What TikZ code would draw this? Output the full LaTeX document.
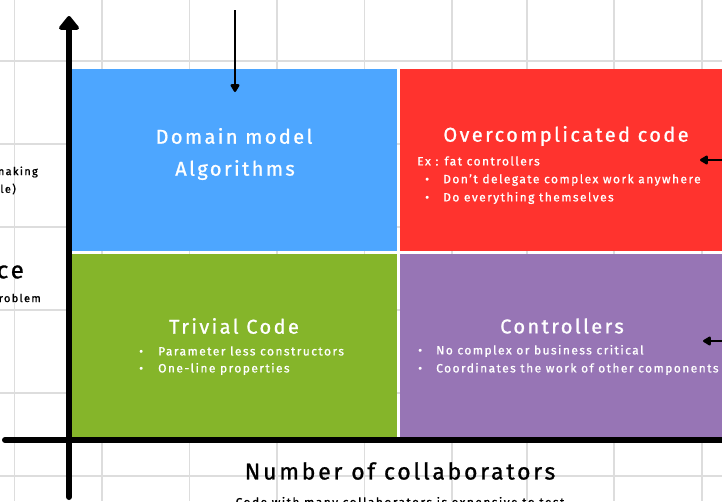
\documentclass[tikz,border=0pt]{standalone}
\usepackage{fontspec}
\setmainfont{Fira Sans}[LetterSpace=12,FakeBold=1]
\usetikzlibrary{arrows.meta}
\definecolor{domainblue}{HTML}{4DA6FF}
\definecolor{overred}{HTML}{FF332E}
\definecolor{trivgreen}{HTML}{85B52A}
\definecolor{ctrlpurple}{HTML}{9775B5}
\definecolor{gridgray}{HTML}{DDDDDD}
\begin{document}
\begin{tikzpicture}[x=1pt,y=-1pt,
	gridline/.style={gridgray,line width=1.5pt},
	quad/.style={anchor=north west,inner sep=0pt,minimum height=182pt},
	head/.style={text=white,font=\fontsize{20}{24}\selectfont},
	item/.style={text=white,anchor=west,inner sep=0pt,font=\fontsize{12}{14}\selectfont},
	side/.style={anchor=east,inner sep=0pt,font=\fontsize{11}{13}\selectfont},
	axis/.style={line width=6pt,line cap=round},
	pointer/.style={line width=2.5pt,-{Triangle[width=10pt,length=9pt,round]}}]
	\useasboundingbox (0,0) rectangle (722,501);
	\foreach \gx in {14.5,102,189.5,277,364.5,452,527,614,702}
		\draw[gridline] (\gx,0) -- (\gx,501);
	\foreach \gy in {61,144,227,310,393,476}
		\draw[gridline] (0,\gy) -- (722,\gy);
	\node[quad,fill=domainblue,minimum width=325pt] (dom) at (72,69) {};
	\node[quad,fill=overred,minimum width=330pt] (over) at (400,69) {};
	\node[quad,fill=trivgreen,minimum width=325pt,minimum height=183pt] (triv) at (72,254) {};
	\node[quad,fill=ctrlpurple,minimum width=330pt,minimum height=183pt] (ctrl) at (400,254) {};
	\node[head] (domtitle) at (234,136) {Domain model};
	\node[head] (domalgo) at (235,170) {Algorithms};
	\node[head] (overtitle) at (566,136) {Overcomplicated code};
	\node[item] (overex) at (417,161) {Ex : fat controllers};
	\node[item] (overa) at (425,180) {\makebox[18pt][l]{•}Don’t delegate complex work anywhere};
	\node[item] (overb) at (425,198) {\makebox[18pt][l]{•}Do everything themselves};
	\node[head] (trivtitle) at (234,326) {Trivial Code};
	\node[item] (triva) at (139,351) {\makebox[19pt][l]{•}Parameter less constructors};
	\node[item] (trivb) at (139,369) {\makebox[19pt][l]{•}One-line properties};
	\node[head] (ctrltitle) at (562,326) {Controllers};
	\node[item] (ctrla) at (418,351) {\makebox[18pt][l]{•}No complex or business critical};
	\node[item] (ctrlb) at (418,369) {\makebox[18pt][l]{•}Coordinates the work of other components};
	\node[side] (sidea) at (38,172) {making};
	\node[side] (sideb) at (16,189) {le)};
	\node[side,font=\fontsize{24}{28}\selectfont] (sidec) at (24,272) {ce};
	\node[side] (sided) at (41,298) {roblem};
	\node[font=\fontsize{23}{27}\selectfont] (xlabel) at (400,471) {Number of collaborators};
	\node[font=\fontsize{12}{14}\selectfont] (xnote) at (400,503) {Code with many collaborators is expensive to test};
	\coordinate (ybot) at (69,497);
	\coordinate (ytop) at (69,16);
	\coordinate (xleft) at (5,440);
	\coordinate (xright) at (740,440);
	\draw[axis,-{Triangle[width=23pt,length=15pt,round]}] (ybot) -- (ytop);
	\draw[axis] (xleft) -- (xright);
	\coordinate (downtop) at (235,10);
	\coordinate (downtip) at (235,92);
	\draw[pointer] (downtop) -- (downtip);
	\coordinate (overin) at (740,160);
	\coordinate (overtip) at (700,160);
	\draw[pointer] (overin) -- (overtip);
	\coordinate (ctrlin) at (740,341);
	\coordinate (ctrltip) at (703,341);
	\draw[pointer] (ctrlin) -- (ctrltip);
\end{tikzpicture}
\end{document}
